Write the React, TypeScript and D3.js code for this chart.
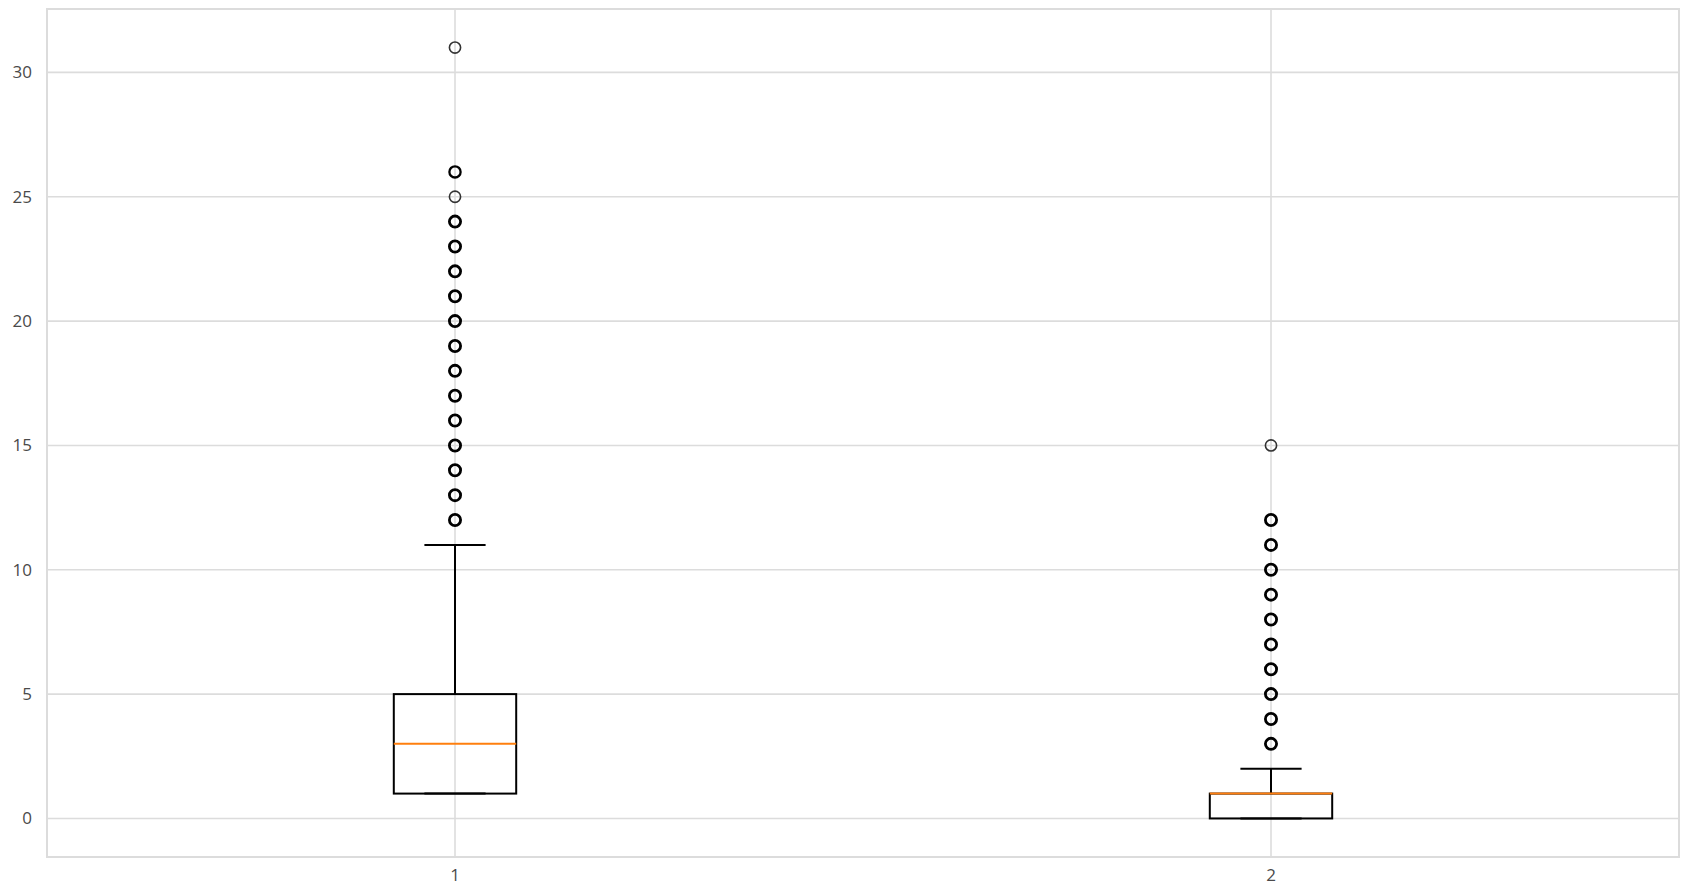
import React from "react";
import * as d3 from "d3";

const categories = ["1", "2"];
const q1 = [1, 0];
const medians = [3, 1];
const q3 = [5, 1];
const whiskerLow = [1, 0];
const whiskerHigh = [11, 2];
// outliers: [value, overlapping count (many → darker)]
const outliers1: [number, number][] = [
  [12, 9], [13, 9], [14, 9], [15, 9], [16, 9], [17, 9], [18, 9], [19, 9], [20, 9],
  [21, 9], [22, 9], [23, 5], [24, 4], [25, 1], [26, 3], [31, 1],
];
const outliers2: [number, number][] = [
  [3, 9], [4, 9], [5, 9], [6, 9], [7, 9], [8, 9], [9, 9], [10, 9], [11, 9], [12, 5], [15, 1],
];
const outliers = [outliers1, outliers2];
const yTicks = [0, 5, 10, 15, 20, 25, 30];

const W = 1686;
const H = 896;
const left = 47;
const right = 1679;
const top = 9;
const bottom = 857;

export default function App() {
  const x = d3.scaleLinear().domain([0.5, 2.5]).range([left, right]);
  const y = d3.scaleLinear().domain([-1.55, 32.55]).range([bottom, top]);
  const boxHalf = (x(1.075) - x(1)) ;
  const capHalf = boxHalf / 2;
  const grid = "#dcdcdc";
  const font = "'Open Sans', 'DejaVu Sans', sans-serif";
  return (
    <svg
      width={W}
      height={H}
      style={{ position: "fixed", left: 0, top: 0, background: "#fff" }}
    >
      <rect x={0} y={0} width={W} height={H} fill="#fff" />
      {yTicks.map((t) => (
        <g key={"y" + t}>
          <line x1={left} x2={right} y1={y(t)} y2={y(t)} stroke={grid} strokeWidth={1.6} />
          <text
            x={left - 15}
            y={y(t)}
            dy="0.35em"
            textAnchor="end"
            fontFamily={font}
            fontSize={17}
            fill="#4a4a4a"
          >
            {t}
          </text>
        </g>
      ))}
      {categories.map((c, i) => (
        <g key={"x" + c}>
          <line x1={x(i + 1)} x2={x(i + 1)} y1={top} y2={bottom} stroke={grid} strokeWidth={1.6} />
          <text
            x={x(i + 1)}
            y={bottom + 24}
            textAnchor="middle"
            fontFamily={font}
            fontSize={17}
            fill="#4a4a4a"
          >
            {c}
          </text>
        </g>
      ))}
      <rect
        x={left}
        y={top}
        width={right - left}
        height={bottom - top}
        fill="none"
        stroke={grid}
        strokeWidth={2}
      />
      {categories.map((c, i) => {
        const cx = x(i + 1);
        return (
          <g key={"box" + c}>
            <line x1={cx} x2={cx} y1={y(q3[i])} y2={y(whiskerHigh[i])} stroke="#000" strokeWidth={2} />
            <line x1={cx} x2={cx} y1={y(q1[i])} y2={y(whiskerLow[i])} stroke="#000" strokeWidth={2} />
            <line
              x1={cx - capHalf}
              x2={cx + capHalf}
              y1={y(whiskerHigh[i])}
              y2={y(whiskerHigh[i])}
              stroke="#000"
              strokeWidth={2}
            />
            <line
              x1={cx - capHalf}
              x2={cx + capHalf}
              y1={y(whiskerLow[i])}
              y2={y(whiskerLow[i])}
              stroke="#000"
              strokeWidth={2}
            />
            <rect
              x={cx - boxHalf}
              y={y(q3[i])}
              width={boxHalf * 2}
              height={y(q1[i]) - y(q3[i])}
              fill="none"
              stroke="#000"
              strokeWidth={2}
            />
            <line
              x1={cx - boxHalf}
              x2={cx + boxHalf}
              y1={y(medians[i])}
              y2={y(medians[i])}
              stroke="#ff7f0e"
              strokeWidth={2}
            />
            {outliers[i].map(([v, n]) => (
              <circle
                key={v}
                cx={cx}
                cy={y(v)}
                r={5.6}
                fill="none"
                stroke={n > 1 ? "#000" : "#333"}
                strokeWidth={n > 3 ? 2.8 : n > 1 ? 2.3 : 1.6}
              />
            ))}
          </g>
        );
      })}
    </svg>
  );
}
